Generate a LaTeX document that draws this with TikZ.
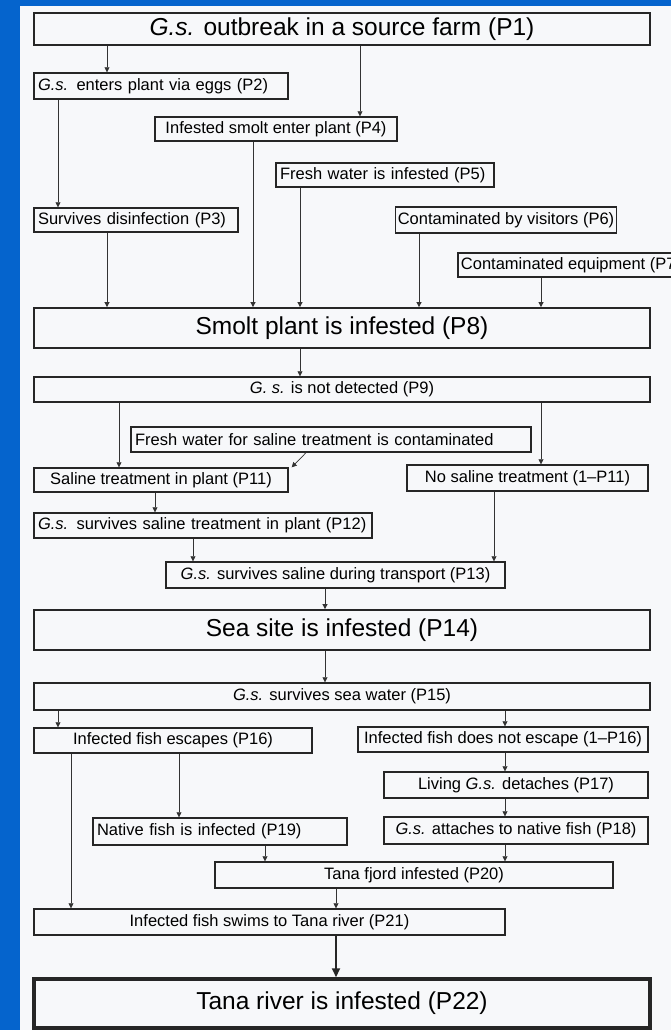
\documentclass[tikz,border=0pt]{standalone}
\usepackage{fontspec}
\setmainfont{Liberation Sans}
\usetikzlibrary{arrows.meta}
\definecolor{slideblue}{RGB}{5,100,205}
\definecolor{paper}{RGB}{247,248,250}

\begin{document}
\begin{tikzpicture}[x=1pt, y=-1pt,
    box/.style={draw=black!85, line width=1.4pt, inner sep=2pt, font=\fontsize{16.5}{19}\selectfont},
    lbox/.style={box, align=left, inner xsep=4pt},
    bigbox/.style={box, line width=1.8pt, font=\fontsize{24.5}{29}\selectfont},
    arr/.style={-{Triangle[length=5pt, width=5pt]}, line width=0.7pt, black!80},
    thickarr/.style={-{Triangle[length=9pt, width=8pt]}, line width=2pt, black!85}
]
\useasboundingbox (0,0) rectangle (671,1030);
\fill[slideblue] (0,0) rectangle (671,1030);
\fill[paper] (20,6) rectangle (671,1030);

\node[bigbox, minimum width=616pt, minimum height=32pt] (p1) at (342,29) {\textit{G.s.} outbreak in a source farm (P1)};
\node[lbox, text width=246pt, minimum height=26pt] (p2) at (161,86) {\textit{G.s.} enters plant via eggs (P2)};
\node[box, minimum width=242pt, minimum height=24pt] (p4) at (276,129) {Infested smolt enter plant (P4)};
\node[lbox, text width=210pt, minimum height=24pt] (p5) at (385,175) {Fresh water is infested (P5)};
\node[lbox, text width=196pt, minimum height=24pt] (p3) at (136,220) {Survives disinfection (P3)};
\node[box, minimum width=216pt, minimum height=26pt] (p6) at (506,220) {Contaminated by visitors (P6)};
\node[box, minimum width=226pt, minimum height=24pt] (p7) at (571,265) {Contaminated equipment (P7)};
\node[bigbox, minimum width=616pt, minimum height=40pt] (p8) at (342,328) {Smolt plant is infested (P8)};
\node[box, minimum width=616pt, minimum height=25pt] (p9) at (342,389.5) {\textit{G. s.} is not detected (P9)};
\node[lbox, text width=392pt, minimum height=25pt] (p10) at (331,439.5) {Fresh water for saline treatment is contaminated};
\node[box, minimum width=254pt, minimum height=24pt] (p11) at (161,480) {Saline treatment in plant (P11)};
\node[box, minimum width=241pt, minimum height=26pt] (p11n) at (527.5,478) {No saline treatment (1--P11)};
\node[lbox, text width=330pt, minimum height=25pt] (p12) at (203,525.5) {\textit{G.s.} survives saline treatment in plant (P12)};
\node[box, minimum width=339pt, minimum height=26pt] (p13) at (335.5,575) {\textit{G.s.} survives saline during transport (P13)};
\node[bigbox, minimum width=616pt, minimum height=40pt] (p14) at (342,630) {Sea site is infested (P14)};
\node[box, minimum width=616pt, minimum height=27pt] (p15) at (342,696.5) {\textit{G.s.} survives sea water (P15)};
\node[box, minimum width=278pt, minimum height=25pt] (p16) at (173,740.5) {Infected fish escapes (P16)};
\node[box, minimum width=290pt, minimum height=25pt] (p16n) at (503,739.5) {Infected fish does not escape (1--P16)};
\node[box, minimum width=264pt, minimum height=26pt] (p17) at (516,785) {Living \textit{G.s.} detaches (P17)};
\node[box, minimum width=264pt, minimum height=27pt] (p18) at (516,830.5) {\textit{G.s.} attaches to native fish (P18)};
\node[lbox, text width=246pt, minimum height=27pt] (p19) at (220,831.5) {Native fish is infected (P19)};
\node[box, minimum width=398pt, minimum height=26pt] (p20) at (414,875) {Tana fjord infested (P20)};
\node[box, minimum width=471pt, minimum height=26pt] (p21) at (269.5,922) {Infected fish swims to Tana river (P21)};
\node[bigbox, line width=3.5pt, minimum width=616pt, minimum height=49pt] (p22) at (342,1003.5) {Tana river is infested (P22)};

\coordinate (c58) at (58,0);
\coordinate (c71) at (71,0);
\coordinate (c107) at (107,0);
\coordinate (c119) at (119,0);
\coordinate (c155) at (155,0);
\coordinate (c179) at (179,0);
\coordinate (c193) at (193,0);
\coordinate (c253) at (253,0);
\coordinate (c265) at (265,0);
\coordinate (c300) at (300,0);
\coordinate (c325) at (325,0);
\coordinate (c336) at (336,0);
\coordinate (c360) at (360,0);
\coordinate (c419) at (419,0);
\coordinate (c494) at (494,0);
\coordinate (c505) at (505,0);
\coordinate (c541) at (541,0);

\draw[arr] (p1.south -| c107) -- (p2.north -| c107);
\draw[arr] (p1.south -| c360) -- (p4.north -| c360);
\draw[arr] (p2.south -| c58) -- (p3.north -| c58);
\draw[arr] (p3.south -| c107) -- (p8.north -| c107);
\draw[arr] (p4.south -| c253) -- (p8.north -| c253);
\draw[arr] (p5.south -| c300) -- (p8.north -| c300);
\draw[arr] (p6.south -| c419) -- (p8.north -| c419);
\draw[arr] (p7.south -| c541) -- (p8.north -| c541);
\draw[arr] (p8.south -| c300) -- (p9.north -| c300);
\draw[arr] (p9.south -| c119) -- (p11.north -| c119);
\draw[arr] (p9.south -| c541) -- (p11n.north -| c541);
\draw[arr] ([xshift=-25pt]p10.south) -- ([xshift=3pt]p11.north east);
\draw[arr] (p11.south -| c155) -- (p12.north -| c155);
\draw[arr] (p12.south -| c193) -- (p13.north -| c193);
\draw[arr] (p11n.south -| c494) -- (p13.north -| c494);
\draw[arr] (p13.south -| c325) -- (p14.north -| c325);
\draw[arr] (p14.south -| c325) -- (p15.north -| c325);
\draw[arr] (p15.south -| c58) -- (p16.north -| c58);
\draw[arr] (p15.south -| c505) -- (p16n.north -| c505);
\draw[arr] (p16.south -| c71) -- (p21.north -| c71);
\draw[arr] (p16.south -| c179) -- (p19.north -| c179);
\draw[arr] (p16n.south -| c505) -- (p17.north -| c505);
\draw[arr] (p17.south -| c505) -- (p18.north -| c505);
\draw[arr] (p18.south -| c505) -- (p20.north -| c505);
\draw[arr] (p19.south -| c265) -- (p20.north -| c265);
\draw[arr] (p20.south -| c336) -- (p21.north -| c336);
\draw[thickarr] (p21.south -| c336) -- (p22.north -| c336);
\end{tikzpicture}
\end{document}
